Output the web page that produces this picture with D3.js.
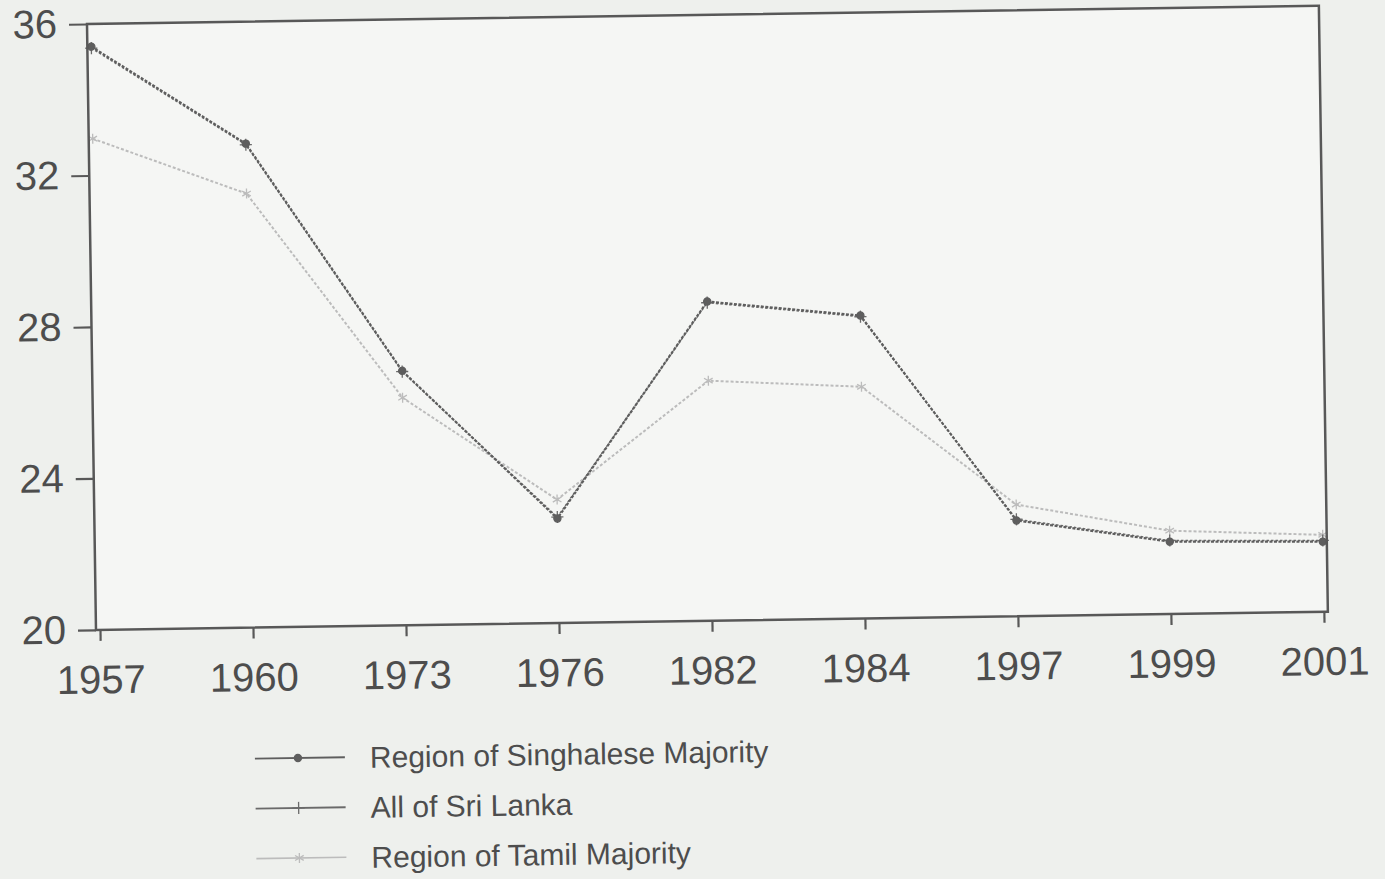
<!DOCTYPE html>
<html>
<head>
<meta charset="utf-8">
<script src="https://cdn.jsdelivr.net/npm/d3@7"></script>
<style>
  html, body { margin: 0; padding: 0; background: #eef0ed; }
  svg { display: block; }
  text { font-family: "Liberation Sans", Arial, sans-serif; fill: #4d4d4d; }
</style>
</head>
<body>
<svg id="chart" width="1385" height="879"></svg>
<script>
const years = ["1957", "1960", "1973", "1976", "1982", "1984", "1997", "1999", "2001"];
const singhalese = [35.40, 32.78, 26.72, 22.76, 28.43, 28.00, 22.53, 21.91, 21.85];
const allSriLanka = [35.36, 32.75, 26.70, 22.80, 28.40, 27.97, 22.56, 21.94, 21.88];
const tamil = [32.97, 31.46, 26.01, 23.26, 26.34, 26.12, 22.95, 22.20, 22.03];
const yTicks = [20, 24, 28, 32, 36];
const seriesNames = ["Region of Singhalese Majority", "All of Sri Lanka", "Region of Tamil Majority"];

const W = 1232, H = 606;
const svg = d3.select("#chart");
const g = svg.append("g").attr("transform", "translate(87,24) rotate(-0.85)");

const x = d3.scalePoint().domain(years).range([4, 1228]);
const y = d3.scaleLinear().domain([20, 36]).range([H, 0]);

g.append("rect").attr("x", 0).attr("y", 0).attr("width", W).attr("height", H)
  .attr("fill", "#f5f6f4").attr("stroke", "none");

const series = [
  { name: seriesNames[0], values: singhalese, color: "#5e5e5e", width: 2.2, dash: "3 1.5", symbol: d3.symbolCircle, size: 40, fill: true },
  { name: seriesNames[1], values: allSriLanka, color: "#6a6a6a", width: 1.4, dash: "2.5 2", symbol: d3.symbolPlus, size: 50, fill: false },
  { name: seriesNames[2], values: tamil, color: "#bcbcbc", width: 2, dash: "3 2", symbol: d3.symbolAsterisk, size: 70, fill: false }
];

const line = d3.line().x((d, i) => x(years[i])).y(d => y(d));

[series[2], series[1], series[0]].forEach(s => {
  g.append("path").datum(s.values)
    .attr("d", line)
    .attr("fill", "none")
    .attr("stroke", s.color)
    .attr("stroke-width", s.width)
    .attr("stroke-dasharray", s.dash);
  g.selectAll(null).data(s.values).enter().append("path")
    .attr("transform", (d, i) => `translate(${x(years[i])},${y(d)})`)
    .attr("d", d3.symbol().type(s.symbol).size(s.size))
    .attr("fill", s.fill ? s.color : "none")
    .attr("stroke", s.color)
    .attr("stroke-width", 1.3);
});

g.append("rect").attr("x", 0).attr("y", 0).attr("width", W).attr("height", H)
  .attr("fill", "none").attr("stroke", "#585858").attr("stroke-width", 2.5);

const yAxis = g.append("g")
  .call(d3.axisLeft(y).tickValues(yTicks).tickSize(18).tickPadding(12).tickFormat(d3.format("d")));
const xAxis = g.append("g").attr("transform", `translate(0,${H})`)
  .call(d3.axisBottom(x).tickSize(11).tickPadding(24));

[yAxis, xAxis].forEach(a => {
  a.select(".domain").remove();
  a.selectAll(".tick line").attr("stroke", "#585858").attr("stroke-width", 2.2);
  a.selectAll(".tick text").attr("font-size", 40).attr("fill", "#4d4d4d")
    .attr("font-family", "'Liberation Sans', Arial, sans-serif");
});

const legend = g.append("g").attr("transform", "translate(157,737)");
series.forEach((s, i) => {
  const row = legend.append("g").attr("transform", `translate(0,${i * 50})`);
  row.append("line").attr("x1", 0).attr("x2", 90).attr("y1", 0).attr("y2", 0)
    .attr("stroke", s.color).attr("stroke-width", i === 2 ? 1.6 : 1.8);
  row.append("path").attr("transform", "translate(43,0)")
    .attr("d", d3.symbol().type(s.symbol).size(s.size))
    .attr("fill", s.fill ? s.color : "none")
    .attr("stroke", s.color).attr("stroke-width", 1.3);
  row.append("text").attr("x", 115).attr("y", 0).attr("dy", "0.36em")
    .attr("font-size", 30).text(s.name);
});
</script>
</body>
</html>
